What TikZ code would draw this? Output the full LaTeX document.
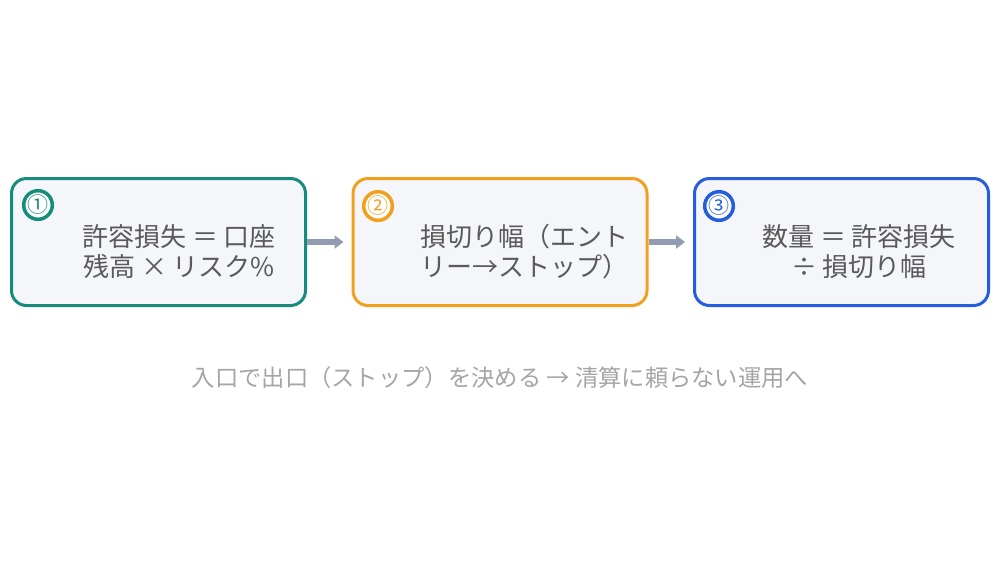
\documentclass[tikz,border=0pt]{standalone}
\usepackage{fontspec}
\setmainfont{Noto Sans CJK JP}
\usetikzlibrary{arrows.meta}
\definecolor{stepteal}{RGB}{22,140,124}
\definecolor{steporange}{RGB}{240,160,30}
\definecolor{stepblue}{RGB}{38,92,222}
\definecolor{boxfill}{RGB}{245,246,250}
\definecolor{flowgray}{RGB}{145,156,178}
\definecolor{textgray}{RGB}{90,90,90}
\definecolor{notegray}{RGB}{165,165,165}

\begin{document}
\begin{tikzpicture}[x=1pt,y=-1pt,
  stepbox/.style={draw, line width=3pt, fill=boxfill, rounded corners=15pt,
    minimum width=294pt, minimum height=127pt},
  badge/.style={circle, draw, line width=3.5pt, fill=white, minimum size=28pt, inner sep=0pt,
    font=\fontsize{21}{21}\selectfont},
  steptext/.style={align=center, text=textgray, font=\fontsize{26}{30}\selectfont},
  flow/.style={line width=5.5pt, draw=flowgray, -{Triangle[length=9pt,width=13pt]}, shorten >=8pt}]
\useasboundingbox[fill=white] (0,0) rectangle (1000,563);

% step boxes
\node[stepbox, draw=stepteal] (b1) at (158.5,242) {};
\node[stepbox, draw=steporange] (b2) at (500,242) {};
\node[stepbox, draw=stepblue] (b3) at (841.5,242) {};

% numbers
\node[badge, draw=stepteal, text=stepteal] (n1) at (38,205) {①};
\node[badge, draw=steporange, text=steporange] (n2) at (378,206) {②};
\node[badge, draw=stepblue, text=stepblue] (n3) at (719,206) {③};

% texts
\node[steptext] (t1) at (179,252) {許容損失 ＝ 口座\\残高 × リスク\%};
\node[steptext] (t2) at (524,252) {損切り幅（エント\\リー→ストップ）};
\node[steptext] (t3) at (859,252) {数量 ＝ 許容損失\\÷ 損切り幅};

% arrows
\draw[flow] (b1.east) -- (b2.west);
\draw[flow] (b2.east) -- (b3.west);

% note
\node[text=notegray, font=\fontsize{23.3}{27}\selectfont] (note) at (500,378)
  {入口で出口（ストップ）を決める → 清算に頼らない運用へ};
\end{tikzpicture}
\end{document}
